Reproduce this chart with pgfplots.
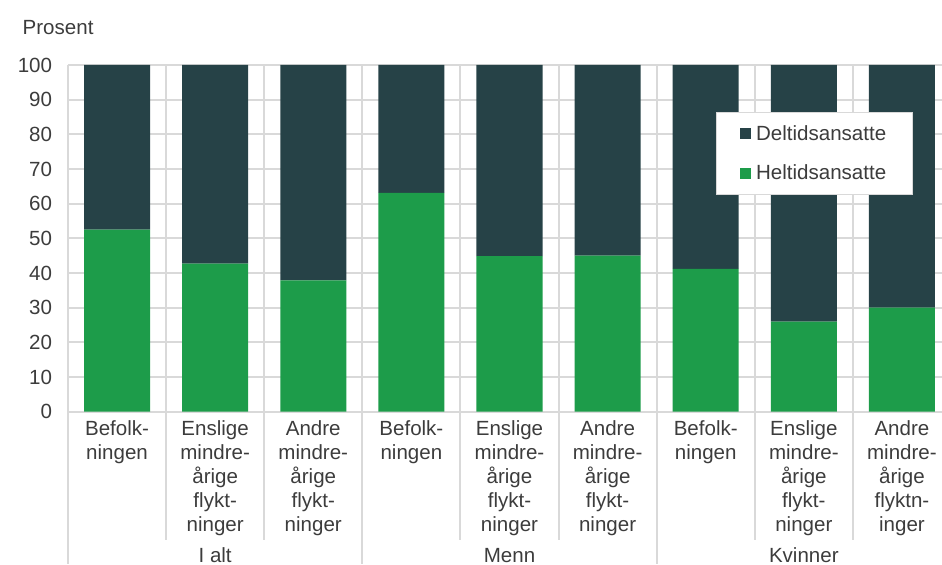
\documentclass[border=0pt]{standalone}
\usepackage{fontspec}
\setmainfont{Liberation Sans}
\usepackage{pgfplots}
\pgfplotsset{compat=1.18}
\definecolor{dk}{HTML}{264247}
\definecolor{gr}{HTML}{1D9C4A}
\definecolor{gridc}{HTML}{D9D9D9}
\definecolor{txt}{HTML}{3C3C3C}
\newcommand\f{\fontsize{15.4pt}{18pt}\selectfont}
\begin{document}
\begin{tikzpicture}[font=\f, text=txt]
\begin{axis}[name=ax, at={(0,0)}, anchor=south west, scale only axis,
  width=662.25pt, height=260pt,
  ybar stacked, bar width=0.673,
  xmin=-0.5, xmax=8.5, ymin=0, ymax=100,
  ytick={0,10,...,100},
  xtick={0,...,8},
  xticklabels={{Befolk-\\ningen},{Enslige\\mindre-\\årige\\flykt-\\ninger},{Andre\\mindre-\\årige\\flykt-\\ninger},
               {Befolk-\\ningen},{Enslige\\mindre-\\årige\\flykt-\\ninger},{Andre\\mindre-\\årige\\flykt-\\ninger},
               {Befolk-\\ningen},{Enslige\\mindre-\\årige\\flykt-\\ninger},{Andre\\mindre-\\årige\\flyktn-\\inger}},
  xticklabel style={align=center, anchor=north, yshift=-3pt},
  yticklabel style={anchor=east, xshift=-8.4pt},
  major tick length=0pt,
  axis line style={draw=none},
  ymajorgrids, grid style={gridc, line width=1.5pt},
  /pgf/number format/assume math mode=true,
  tick label style={font=\f, text=txt},
  clip=false,
  legend style={at={(0.734,0.864)}, anchor=north west, draw=gridc, line width=1pt, fill=white,
    inner xsep=17.5pt, inner ysep=7.5pt, row sep=13pt, font=\f,
    nodes={inner sep=2pt, text=txt}},
  legend cell align=left, reverse legend,
  legend image code/.code={\fill[#1] (0pt,-4.1pt) rectangle (8.2pt,4.1pt); \path (10pt,0pt);},
]
\draw[gridc, line width=1.5pt] (axis cs:-0.5,100) -- ([yshift=-114.25pt]axis cs:-0.5,0);
\draw[gridc, line width=1.5pt] (axis cs:2.5,100) -- ([yshift=-114.25pt]axis cs:2.5,0);
\draw[gridc, line width=1.5pt] (axis cs:5.5,100) -- ([yshift=-114.25pt]axis cs:5.5,0);
\draw[gridc, line width=1.5pt] (axis cs:8.5,100) -- ([yshift=-114.25pt]axis cs:8.5,0);
\draw[gridc, line width=1.5pt] (axis cs:0.5,100) -- ([yshift=-96pt]axis cs:0.5,0);
\draw[gridc, line width=1.5pt] (axis cs:1.5,100) -- ([yshift=-96pt]axis cs:1.5,0);
\draw[gridc, line width=1.5pt] (axis cs:3.5,100) -- ([yshift=-96pt]axis cs:3.5,0);
\draw[gridc, line width=1.5pt] (axis cs:4.5,100) -- ([yshift=-96pt]axis cs:4.5,0);
\draw[gridc, line width=1.5pt] (axis cs:6.5,100) -- ([yshift=-96pt]axis cs:6.5,0);
\draw[gridc, line width=1.5pt] (axis cs:7.5,100) -- ([yshift=-96pt]axis cs:7.5,0);
\addplot[fill=gr, draw=none] coordinates {(0,52.5) (1,42.7) (2,37.9) (3,63.1) (4,44.9) (5,45.0) (6,41.2) (7,26.0) (8,30.0)};
\addlegendentry{Heltidsansatte}
\addplot[fill=dk, draw=none] coordinates {(0,47.5) (1,57.3) (2,62.1) (3,36.9) (4,55.1) (5,55.0) (6,58.8) (7,74.0) (8,70.0)};
\addlegendentry{Deltidsansatte}
\node[anchor=base, text=txt, font=\f] at ([yshift=-113pt]axis cs:1,0) {I alt};
\node[anchor=base, text=txt, font=\f] at ([yshift=-113pt]axis cs:4,0) {Menn};
\node[anchor=base, text=txt, font=\f] at ([yshift=-113pt]axis cs:7,0) {Kvinner};
\end{axis}
\node[anchor=base west, text=txt, font=\f] at (-37.5pt,283pt) {Prosent};
\pgfresetboundingbox
\useasboundingbox (-51pt,308.75pt) rectangle (655.5pt,-114.25pt);
\end{tikzpicture}
\end{document}
